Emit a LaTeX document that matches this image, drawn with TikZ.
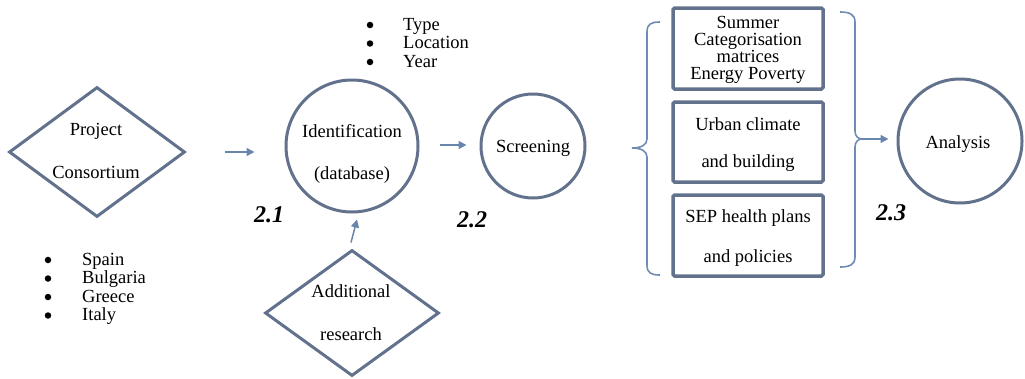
\documentclass[tikz,border=0pt]{standalone}
\usepackage{fontspec}
\setmainfont{Liberation Serif}
\usetikzlibrary{shapes.geometric,arrows.meta,calc}
\definecolor{shapeline}{RGB}{98,113,140}
\definecolor{arrowline}{RGB}{104,133,172}
\definecolor{braceline}{RGB}{112,140,180}
\tikzset{
  txt/.style={font=\fontsize{18.5}{22}\selectfont, inner sep=0pt, anchor=base},
  stage/.style={font=\fontsize{24}{28}\selectfont\bfseries\itshape, inner sep=0pt, anchor=base west},
  circ/.style={circle, draw=shapeline, line width=3pt, inner sep=0pt},
  diam/.style={diamond, draw=shapeline, line width=3pt, inner sep=0pt, line join=miter},
  topic/.style={rectangle, rounded corners=1.5pt, draw=shapeline, line width=3.5pt, minimum width=150pt, inner sep=0pt},
  flow/.style={draw=arrowline, line width=1.5pt, -{Triangle[length=8pt,width=8pt]}},
  bracepath/.style={draw=braceline, line width=1.6pt},
  bullets/.style={font=\fontsize{18.5}{18.5}\selectfont, align=left, inner sep=0pt, anchor=base west},
  dot/.style={circle, fill=black, inner sep=0pt, minimum size=6.5pt}
}
\begin{document}
\begin{tikzpicture}[x=1pt,y=-1pt]
\useasboundingbox (0,0) rectangle (1025,378);

% main shapes
\node[diam, minimum width=176pt, minimum height=130pt] (proj) at (97,152) {};
\node[circ, minimum size=132pt] (ident) at (352,146) {};
\node[circ, minimum size=104pt] (scr) at (533,146) {};
\node[diam, minimum width=174pt, minimum height=126pt] (addl) at (352,313) {};
\node[topic, minimum height=81pt] (box1) at (748,48.5) {};
\node[topic, minimum height=80pt] (box2) at (748,142) {};
\node[topic, minimum height=81pt] (box3) at (748,235.5) {};
\node[circ, minimum size=124pt] (anal) at (960,141) {};

% texts inside shapes
\node[txt] at (96,135) {Project};
\node[txt] at (96,178) {Consortium};
\node[txt] at (352,137) {Identification};
\node[txt] at (352,179) {(database)};
\node[txt] at (533,152) {Screening};
\node[txt] at (351,297) {Additional};
\node[txt] at (351,340) {research};
\node[txt] at (748,28) {Summer};
\node[txt] at (748,45) {Categorisation};
\node[txt] at (748,62) {matrices};
\node[txt] at (748,79) {Energy Poverty};
\node[txt] at (748,130) {Urban climate};
\node[txt] at (748,167) {and building};
\node[txt] at (748,222) {SEP health plans};
\node[txt] at (748,262) {and policies};
\node[txt] at (958,148) {Analysis};

% bullet lists (text anchored at the baseline of its last line)
\node[bullets] (types) at (403,67) {Type\\Location\\Year};
\foreach \i in {0,1,2} \node[dot] (tdot\i) at (370,25+18.5*\i) {};
\node[bullets] (countries) at (82,320.5) {Spain\\Bulgaria\\Greece\\Italy};
\foreach \i in {0,1,2,3} \node[dot] (cdot\i) at (48,260+18.5*\i) {};

% stage numbers
\node[stage] (s1) at (254,222) {2.1};
\node[stage] (s2) at (457,227) {2.2};
\node[stage] (s3) at (876,220) {2.3};

% braces around the topic boxes
\coordinate (ltip) at (632,148);
\coordinate (rtip) at (862,139);
\draw[bracepath] (660,22) .. controls (651,22) and (647,24) .. (647,32) -- (647,139)
  .. controls (647,145) and (641,148) .. (ltip)
  .. controls (641,148) and (647,151) .. (647,157) -- (647,265)
  .. controls (647,273) and (651,275) .. (660,275);
\draw[bracepath] (840,12) .. controls (849,12) and (855,14) .. (855,22) -- (855,131)
  .. controls (855,136) and (858,139) .. (rtip)
  .. controls (858,139) and (855,142) .. (855,147) -- (855,257)
  .. controls (855,265) and (849,267) .. (840,267);

% connectors
\draw[flow] ($(proj.east)+(38,0)$) -- ($(proj.east)+(68,0)$);
\draw[flow] ($(ident.east)+(20,-1)$) -- ($(scr.west)+(-13,-1)$);
\draw[flow] ($(addl.north)+(-1,-6)$) -- ($(ident.south)+(5,6)$);
\draw[flow] (rtip) -- ($(anal.west)+(-8,-2)$);
\end{tikzpicture}
\end{document}
